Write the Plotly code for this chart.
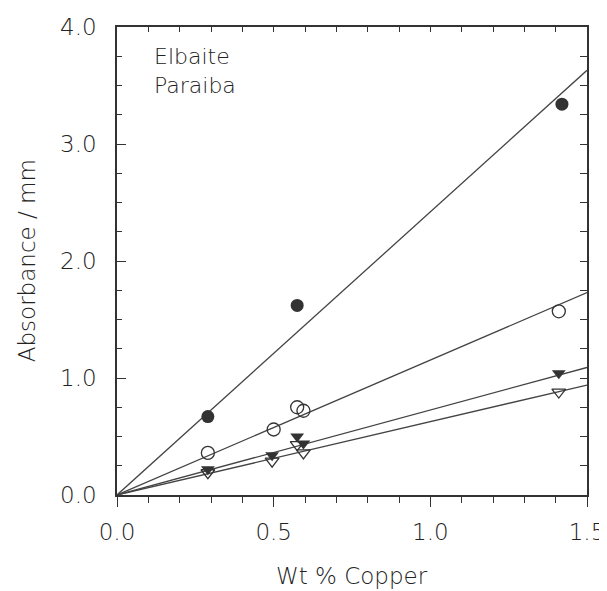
import plotly.graph_objects as go

# Data
cu_filled_circ = [0.29, 0.575, 1.42]
abs_filled_circ = [0.67, 1.62, 3.34]

cu_open_circ = [0.29, 0.50, 0.575, 0.595, 1.41]
abs_open_circ = [0.36, 0.56, 0.75, 0.72, 1.57]

cu_filled_tri = [0.29, 0.495, 0.575, 0.595, 1.41]
abs_filled_tri = [0.22, 0.34, 0.50, 0.44, 1.04]

cu_open_tri = [0.29, 0.495, 0.575, 0.595, 1.41]
abs_open_tri = [0.19, 0.29, 0.43, 0.36, 0.88]

fit_x = [0.0, 1.5]
fit_filled_circ = [0.0, 3.63]
fit_open_circ = [0.0, 1.73]
fit_filled_tri = [0.0, 1.09]
fit_open_tri = [0.0, 0.94]

x_tickvals = [0, 0.5, 1.0, 1.5]
x_ticktext = ["0.0", "0.5", "1.0", "1.5"]
y_tickvals = [0, 1, 2, 3, 4]
y_ticktext = ["0.0", "1.0", "2.0", "3.0", "4.0"]

ink = "#333333"
txt = "#222222"
font_family = "DejaVu Sans"

fig = go.Figure()

for fy in [fit_filled_circ, fit_open_circ, fit_filled_tri, fit_open_tri]:
    fig.add_trace(go.Scatter(x=fit_x, y=fy, mode="lines",
                             line=dict(color="#444444", width=1.3),
                             showlegend=False, hoverinfo="skip"))

fig.add_trace(go.Scatter(x=cu_filled_circ, y=abs_filled_circ, mode="markers",
                         marker=dict(symbol="circle", size=13, color=ink,
                                     line=dict(width=0)), showlegend=False))
fig.add_trace(go.Scatter(x=cu_open_circ, y=abs_open_circ, mode="markers",
                         marker=dict(symbol="circle-open", size=13, color=ink,
                                     line=dict(width=1.3, color=ink)), showlegend=False))
fig.add_trace(go.Scatter(x=cu_filled_tri, y=abs_filled_tri, mode="markers",
                         marker=dict(symbol="triangle-down", size=12, color=ink,
                                     line=dict(width=0)), showlegend=False))
fig.add_trace(go.Scatter(x=cu_open_tri, y=abs_open_tri, mode="markers",
                         marker=dict(symbol="triangle-down-open", size=12, color=ink,
                                     line=dict(width=1.3, color=ink)), showlegend=False))

# invisible trace on secondary axes so they render
fig.add_trace(go.Scatter(x=[None], y=[None], xaxis="x2", yaxis="y2",
                         showlegend=False, hoverinfo="skip"))

tickfont = dict(family=font_family, size=23, color=txt, weight=200)

fig.update_layout(
    width=607, height=591,
    margin=dict(l=109, r=28, t=19, b=104, autoexpand=False),
    paper_bgcolor="white", plot_bgcolor="white",
    showlegend=False,
    xaxis=dict(range=[0, 1.5], tickmode="array", automargin=False,
               tickvals=x_tickvals, ticktext=x_ticktext,
               ticks="outside", ticklen=10, tickwidth=1.2, tickcolor=ink,
               minor=dict(tickmode="array",
                          tickvals=[0.1, 0.2, 0.3, 0.4, 0.6, 0.7, 0.8, 0.9,
                                    1.1, 1.2, 1.3, 1.4],
                          ticks="outside", ticklen=6, tickwidth=1, tickcolor=ink),
               showline=True, linecolor=ink, linewidth=1.5,
               showgrid=False, zeroline=False, tickfont=tickfont,
               ticklabelstandoff=6),
    xaxis2=dict(range=[0, 1.5], overlaying="x", side="top", automargin=False,
                tickmode="linear", tick0=0, dtick=0.1,
                ticks="inside", ticklen=5, tickwidth=1, tickcolor=ink,
                showticklabels=False, showline=True, linecolor=ink, linewidth=1.5,
                showgrid=False, zeroline=False),
    yaxis=dict(range=[0, 4.0], tickmode="array", automargin=False,
               tickvals=y_tickvals, ticktext=y_ticktext,
               ticks="inside", ticklen=9, tickwidth=1.2, tickcolor=ink,
               minor=dict(tickmode="linear", tick0=0, dtick=0.25,
                          ticks="inside", ticklen=5, tickwidth=1, tickcolor=ink),
               showline=True, linecolor=ink, linewidth=1.5,
               showgrid=False, zeroline=False, tickfont=tickfont,
               ticklabelstandoff=14),
    yaxis2=dict(range=[0, 4.0], overlaying="y", side="right", automargin=False,
                tickmode="linear", tick0=0, dtick=0.25,
                ticks="inside", ticklen=7, tickwidth=1, tickcolor=ink,
                showticklabels=False, showline=True, linecolor=ink, linewidth=1.5,
                showgrid=False, zeroline=False),
    annotations=[
        dict(text="Elbaite<br>Paraiba", xref="paper", yref="paper",
             x=0.074, y=0.968, xanchor="left", yanchor="top", align="left",
             showarrow=False,
             font=dict(family=font_family, size=22, color=txt, weight=200)),
        dict(text="Wt % Copper", xref="paper", yref="paper",
             x=0.5, y=-0.173, xanchor="center", yanchor="middle",
             showarrow=False,
             font=dict(family=font_family, size=23, color=txt, weight=200)),
        dict(text="Absorbance / mm", xref="paper", yref="paper",
             x=-0.191, y=0.5, xanchor="center", yanchor="middle", textangle=-90,
             showarrow=False,
             font=dict(family=font_family, size=23, color=txt, weight=200)),
    ],
)

fig.write_html("out.html")
